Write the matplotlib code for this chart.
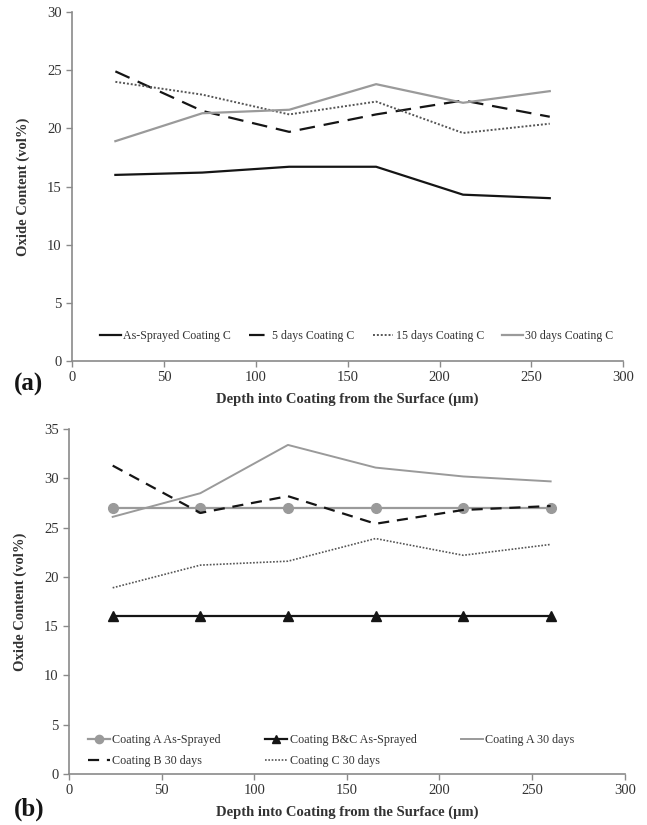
import numpy as np
import matplotlib
matplotlib.use("Agg")
import matplotlib.pyplot as plt

plt.rcParams['font.family'] = ['Liberation Serif', 'DejaVu Serif']

depth = [23.6, 70.9, 118.2, 165.5, 212.8, 260.0]

# panel (a) - coating C
as_sprayed_c = [16.0, 16.2, 16.7, 16.7, 14.3, 14.0]
days5_c = [24.9, 21.5, 19.7, 21.2, 22.4, 21.0]
days15_c = [24.0, 22.9, 21.2, 22.3, 19.6, 20.4]
days30_c = [18.9, 21.3, 21.6, 23.8, 22.2, 23.2]

# panel (b) - comparison
a_as_sprayed = [27.0, 27.0, 27.0, 27.0, 27.0, 27.0]
bc_as_sprayed = [16.0, 16.0, 16.0, 16.0, 16.0, 16.0]
a_30 = [26.1, 28.5, 33.4, 31.1, 30.2, 29.7]
b_30 = [31.3, 26.5, 28.2, 25.4, 26.8, 27.2]
c_30 = [18.9, 21.2, 21.6, 23.9, 22.2, 23.3]

GRAY = '#9a9a9a'
BLACK = '#151515'
TXT = '#333333'

fig = plt.figure(figsize=(6.47, 8.25), dpi=100)
ax1 = fig.add_axes([0.1113, 0.5624, 0.852, 0.423])
ax2 = fig.add_axes([0.1066, 0.0618, 0.859, 0.418])


def style_axes(ax, ymax):
    ax.set_xlim(0, 300)
    ax.set_ylim(0, ymax)
    ax.set_xticks(np.arange(0, 301, 50))
    ax.set_yticks(np.arange(0, ymax + 1, 5))
    for s in ['top', 'right']:
        ax.spines[s].set_visible(False)
    for s in ['left', 'bottom']:
        ax.spines[s].set_color('#8a8a8a')
        ax.spines[s].set_linewidth(1.2)
    ax.tick_params(axis='both', colors='#8a8a8a', labelcolor=TXT,
                   labelsize=10.5, length=4, width=1)
    ax.set_xlabel('Depth into Coating from the Surface (µm)', fontsize=10.5,
                  fontweight='bold', color=TXT, labelpad=6)
    ax.set_ylabel('Oxide Content (vol%)', fontsize=10.5, fontweight='bold',
                  color=TXT, labelpad=12)


# (a)
ax1.plot(depth, as_sprayed_c, color=BLACK, lw=1.6, label='As-Sprayed Coating C')
ax1.plot(depth, days5_c, color=BLACK, lw=1.6, dashes=(7, 4), label='5 days Coating C')
ax1.plot(depth, days15_c, color='#555555', lw=1.4, ls=(0, (1, 1)), label='15 days Coating C')
ax1.plot(depth, days30_c, color=GRAY, lw=1.6, label='30 days Coating C')
style_axes(ax1, 30)
ax1.legend(loc='lower left', bbox_to_anchor=(0.051, 0.055), ncol=4, frameon=False,
           fontsize=8.6, handlelength=1.75, handletextpad=0.2, columnspacing=1.5,
           borderpad=0, borderaxespad=0, labelcolor=TXT)
fig.text(0.022, 0.527, '(a)', fontsize=18, fontweight='bold', color=BLACK)

# (b)
h1, = ax2.plot(depth, a_as_sprayed, color=GRAY, lw=1.6, marker='o', ms=7,
               label='Coating A As-Sprayed')
h2, = ax2.plot(depth, bc_as_sprayed, color=BLACK, lw=1.6, marker='^', ms=7,
               label='Coating B&C As-Sprayed')
h3, = ax2.plot(depth, a_30, color=GRAY, lw=1.4, label='Coating A 30 days')
h4, = ax2.plot(depth, b_30, color=BLACK, lw=1.6, dashes=(5, 3.5), label='Coating B 30 days')
h5, = ax2.plot(depth, c_30, color='#555555', lw=1.2, ls=(0, (1, 1)), label='Coating C 30 days')
style_axes(ax2, 35)
ax2.legend(handles=[h1, h4, h2, h5, h3], loc='lower left', bbox_to_anchor=(0.034, 0.02),
           ncol=3, frameon=False, fontsize=8.7, handlelength=1.8, handletextpad=0.2,
           columnspacing=3.7, labelspacing=0.75, borderpad=0, borderaxespad=0,
           labelcolor=TXT, markerscale=0.85)
fig.text(0.022, 0.011, '(b)', fontsize=18, fontweight='bold', color=BLACK)

fig.savefig('out.png', dpi=100)
